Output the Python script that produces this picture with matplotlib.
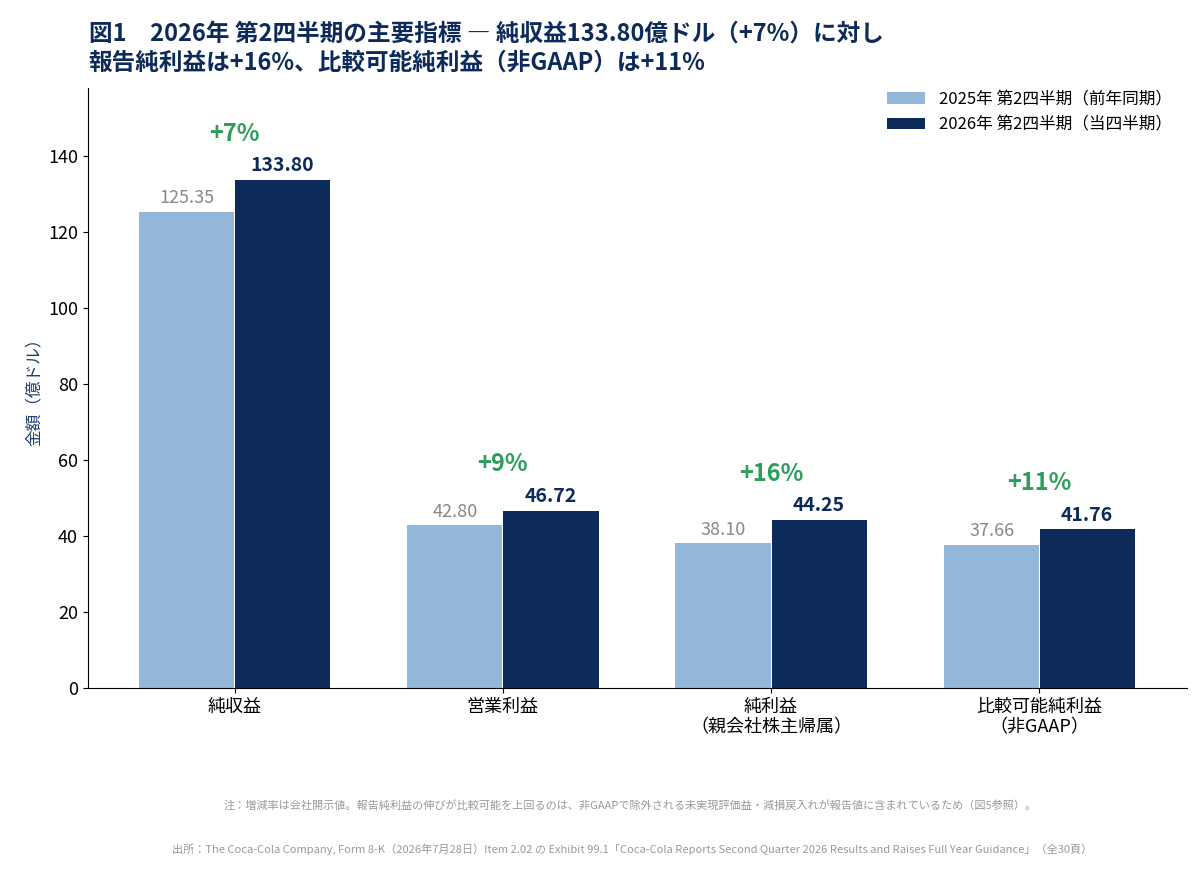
import matplotlib.pyplot as plt
import numpy as np

plt.rcParams['font.family'] = ['Noto Sans CJK JP', 'DejaVu Sans']

categories = ["純収益", "営業利益", "純利益\n（親会社株主帰属）", "比較可能純利益\n（非GAAP）"]
prev = [125.35, 42.80, 38.10, 37.66]
curr = [133.80, 46.72, 44.25, 41.76]
growth = ["+7%", "+9%", "+16%", "+11%"]

C_PREV = "#93b7d9"
C_CURR = "#0d2b5a"
C_GREEN = "#2e9e5b"

fig = plt.figure(figsize=(12, 8.72), dpi=100)
ax = fig.add_axes([0.073, 0.211, 0.916, 0.688])

x = np.arange(len(categories))
w = 0.355
ax.bar(x - w / 2 - 0.002, prev, w, color=C_PREV, label="2025年 第2四半期（前年同期）")
ax.bar(x + w / 2 + 0.002, curr, w, color=C_CURR, label="2026年 第2四半期（当四半期）")

for i in range(len(x)):
    ax.text(x[i] - w / 2, prev[i] + 1.2, f"{prev[i]:.2f}", ha="center", va="bottom",
            fontsize=13, color="#888888")
    ax.text(x[i] + w / 2, curr[i] + 1.2, f"{curr[i]:.2f}", ha="center", va="bottom",
            fontsize=14, color=C_CURR, fontweight="bold")
    ax.text(x[i], max(prev[i], curr[i]) + 9, growth[i], ha="center", va="bottom",
            fontsize=17, color=C_GREEN, fontweight="bold")

ax.set_xlim(-0.548, 3.55)
ax.set_ylim(0, 158)
ax.set_yticks(range(0, 141, 20))
ax.tick_params(axis="y", labelsize=13)
ax.set_xticks(x)
ax.set_xticklabels(categories, fontsize=13, linespacing=1.2)
ax.set_ylabel("金額（億ドル）", fontsize=12, color="#1f3f6e")
ax.spines["top"].set_visible(False)
ax.spines["right"].set_visible(False)

ax.legend(loc="upper right", frameon=False, fontsize=12, handlelength=2.3,
          bbox_to_anchor=(1.0, 1.02))

fig.text(0.074, 0.975, "図1　2026年 第2四半期の主要指標 ― 純収益133.80億ドル（+7%）に対し\n報告純利益は+16%、比較可能純利益（非GAAP）は+11%",
         fontsize=17, fontweight="bold", color="#0d2b5a", va="top", linespacing=1.25)
fig.text(0.525, 0.073, "注：増減率は会社開示値。報告純利益の伸びが比較可能を上回るのは、非GAAPで除外される未実現評価益・減損戻入れが報告値に含まれているため（図5参照）。",
         fontsize=8, color="#999999", ha="center")
fig.text(0.527, 0.022, "出所：The Coca-Cola Company, Form 8-K（2026年7月28日）Item 2.02 の Exhibit 99.1「Coca-Cola Reports Second Quarter 2026 Results and Raises Full Year Guidance」（全30頁）",
         fontsize=8, color="#999999", ha="center")

fig.savefig("out.png", dpi=100)
